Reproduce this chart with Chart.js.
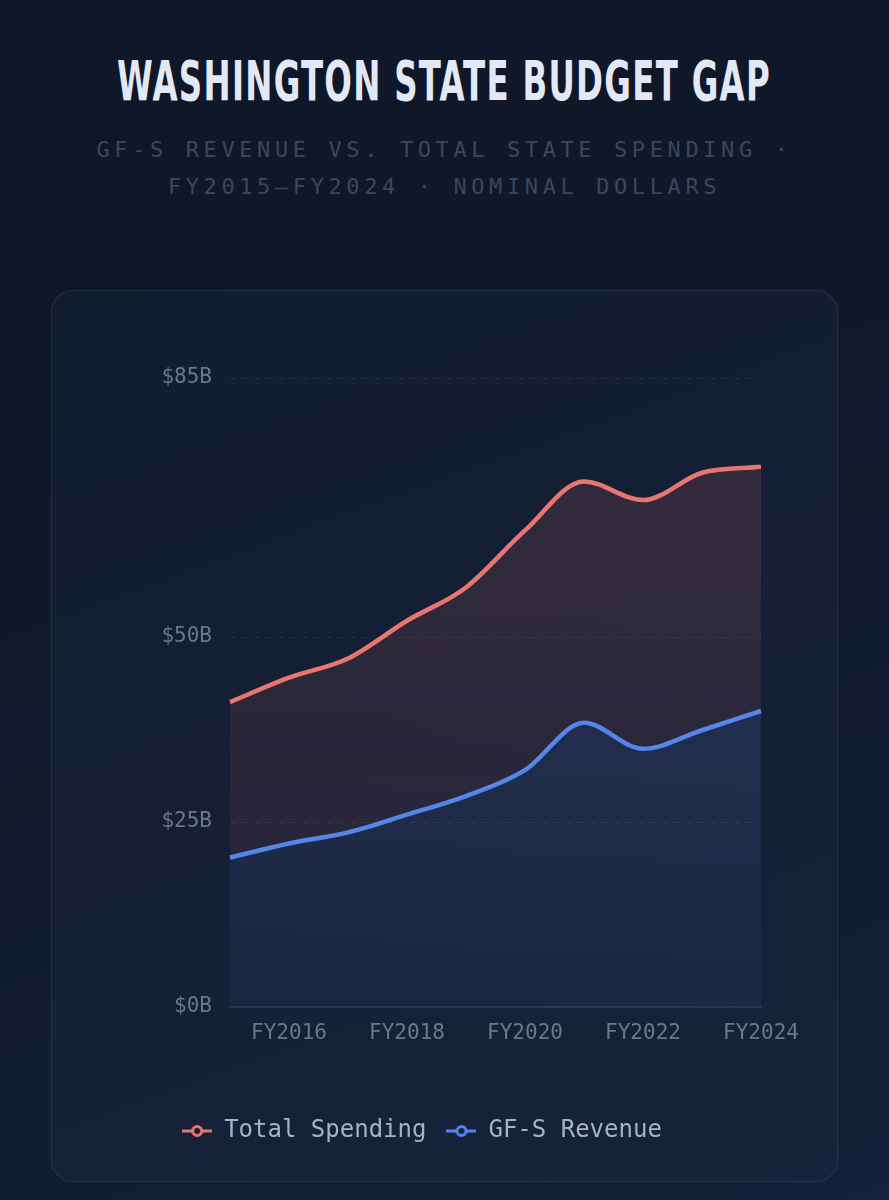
<!DOCTYPE html>
<html>
<head>
<meta charset="utf-8">
<script src="https://cdn.jsdelivr.net/npm/chart.js@4.4.1/dist/chart.umd.min.js"></script>
<style>
  html, body { margin:0; padding:0; }
  body {
    width:889px; height:1200px; overflow:hidden; position:relative;
    background: linear-gradient(160deg, #0e1627 0%, #111a2e 55%, #15203a 100%);
  }
  .title {
    position:absolute; left:444px; top:48px; white-space:nowrap; transform-origin:center;
    font-family:"DejaVu Sans Condensed","DejaVu Sans",sans-serif;
    font-weight:bold; font-size:56px; letter-spacing:2px; color:#e3e9f4;
    line-height:66px;
  }
  .subtitle {
    position:absolute; left:0; top:131px; width:889px; text-align:center;
    font-family:"DejaVu Sans Mono",monospace; font-size:22px; letter-spacing:4.6px;
    color:#3c465c; line-height:37px;
  }
  .card {
    position:absolute; left:51px; top:290px; width:785px; height:890px;
    border:1px solid rgba(148,163,184,0.14); border-radius:22px;
    background: rgba(30,41,66,0.35);
  }
  .chart-box { position:absolute; left:51px; top:290px; width:787px; height:892px; }
</style>
</head>
<body>
<div class="title" id="title">WASHINGTON STATE BUDGET GAP</div>
<div class="subtitle">GF-S REVENUE VS. TOTAL STATE SPENDING ·<br>FY2015–FY2024 · NOMINAL DOLLARS</div>
<div class="card"></div>
<div class="chart-box"><canvas id="myChart"></canvas></div>
<script>
// data (billions of dollars)
const years = ['FY2015','FY2016','FY2017','FY2018','FY2019','FY2020','FY2021','FY2022','FY2023','FY2024']
const total_spending = [41.2, 44.5, 47.1, 52.2, 56.7, 64.4, 71.0, 68.5, 72.2, 73.0]
const gfs_revenue = [20.2, 22.1, 23.6, 26.0, 28.5, 32.0, 38.4, 34.9, 37.4, 40.0]
const y_ticks = [0, 25, 50, 85]

const spend_color = '#e8766e'
const rev_color = '#4e86ef'

// no narrow display font installed, so squeeze the title to the reference width
const title_el = document.getElementById('title')
title_el.style.transform = 'translateX(-50%) scaleX(' + (654 / title_el.offsetWidth) + ')'

// little "-o-" marker for the legend
function legend_icon(color) {
    const c = document.createElement('canvas')
    c.width = 30
    c.height = 14
    const g = c.getContext('2d')
    g.strokeStyle = color
    g.lineWidth = 3
    g.beginPath()
    g.moveTo(0, 7)
    g.lineTo(30, 7)
    g.stroke()
    g.beginPath()
    g.arc(15, 7, 4.5, 0, Math.PI * 2)
    g.fillStyle = '#172036'
    g.fill()
    g.stroke()
    return c
}

// vertical gradient fill, needs the chart area so it is scriptable
function area_fill(r, gr, b, top_a, bottom_a) {
    return (context) => {
        const area = context.chart.chartArea
        if (!area) return 'rgba(0,0,0,0)'
        const grad = context.chart.ctx.createLinearGradient(0, area.top, 0, area.bottom)
        grad.addColorStop(0, `rgba(${r},${gr},${b},${top_a})`)
        grad.addColorStop(1, `rgba(${r},${gr},${b},${bottom_a})`)
        return grad
    }
}

const tick_font = { family: '"DejaVu Sans Mono", monospace', size: 21 }

const ctx = document.getElementById('myChart').getContext('2d')
const myChart = new Chart(ctx, {
    type: 'line',
    data: {
        labels: years,
        datasets: [{
            label: 'Total Spending',
            data: total_spending,
            borderColor: spend_color,
            backgroundColor: area_fill(232, 118, 110, 0.16, 0.06),
            borderWidth: 4.5,
            pointRadius: 0,
            pointStyle: legend_icon(spend_color),
            fill: '+1',
            cubicInterpolationMode: 'monotone'
        }, {
            label: 'GF-S Revenue',
            data: gfs_revenue,
            borderColor: rev_color,
            backgroundColor: area_fill(110, 140, 220, 0.24, 0.06),
            borderWidth: 4.5,
            pointRadius: 0,
            pointStyle: legend_icon(rev_color),
            fill: 'origin',
            cubicInterpolationMode: 'monotone'
        }]
    },
    options: {
        responsive: true,
        maintainAspectRatio: false,
        animation: false,
        layout: { padding: { left: 32, right: 77, top: 88, bottom: 29 } },
        scales: {
            x: {
                grid: { display: false, drawTicks: false },
                border: { display: true, color: '#2a3448', width: 2 },
                ticks: {
                    color: '#6b778d',
                    font: tick_font,
                    padding: 14,
                    autoSkip: false,
                    maxRotation: 0,
                    callback: function (value, index) {
                        return index % 2 === 1 ? this.getLabelForValue(value) : ''
                    }
                },
                afterFit: (scale) => { scale.height = 92 }
            },
            y: {
                min: 0,
                max: 85,
                grid: { color: 'rgba(148,163,184,0.13)', lineWidth: 1, drawTicks: false },
                border: { display: false, dash: [6, 6] },
                ticks: {
                    color: '#6b778d',
                    font: tick_font,
                    padding: 18,
                    callback: (v) => '$' + v + 'B'
                },
                afterBuildTicks: (scale) => { scale.ticks = y_ticks.map((v) => ({ value: v })) },
                afterFit: (scale) => { scale.width = 147 }
            }
        },
        plugins: {
            legend: {
                position: 'bottom',
                labels: {
                    usePointStyle: true,
                    pointStyleWidth: 30,
                    padding: 20,
                    color: '#a7b2c5',
                    font: { family: '"DejaVu Sans Mono", monospace', size: 24 }
                }
            },
            tooltip: { enabled: false }
        }
    }
})
</script>
</body>
</html>
